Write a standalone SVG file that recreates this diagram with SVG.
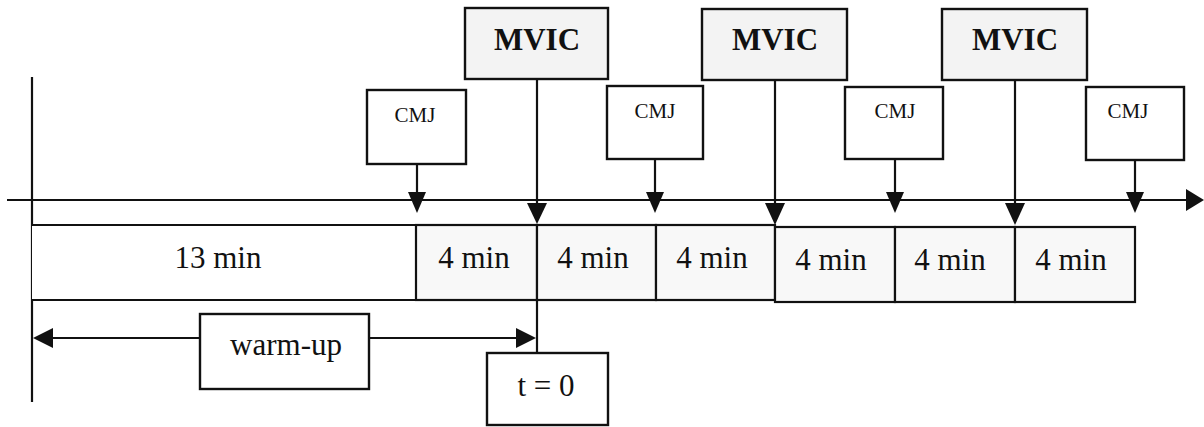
<svg xmlns="http://www.w3.org/2000/svg" width="1204" height="427" viewBox="0 0 1204 427">
  <defs>
    <style>
      .box { fill: #ffffff; stroke: #111111; stroke-width: 2.4; }
      .shade { fill: #f3f3f3; stroke: #111111; stroke-width: 2.4; }
      .cell { fill: #f8f8f8; stroke: #111111; stroke-width: 2.2; }
      .ln { stroke: #111111; stroke-width: 2.2; fill: none; }
      .head { fill: #111111; stroke: none; }
      .t { font-family: "Liberation Serif", "Times New Roman", serif; fill: #111111; text-anchor: middle; }
      .big { font-size: 31px; }
      .bold { font-size: 31px; font-weight: bold; }
      .small { font-size: 21px; }
    </style>
  </defs>

  <!-- time axis and start marker -->
  <g id="connectors">
    <line class="ln" x1="32" y1="77" x2="32" y2="402"/>
    <line class="ln" x1="7" y1="200" x2="1188" y2="200" stroke-width="2.6"/>
    <polygon class="head" points="1186,189 1204,200 1186,211"/>

    <!-- CMJ drops -->
    <line class="ln" x1="417" y1="164" x2="417" y2="194"/>
    <polygon class="head" points="408,192 426,192 417,213"/>
    <line class="ln" x1="655" y1="159" x2="655" y2="194"/>
    <polygon class="head" points="646,192 664,192 655,213"/>
    <line class="ln" x1="895" y1="159" x2="895" y2="194"/>
    <polygon class="head" points="886,192 904,192 895,213"/>
    <line class="ln" x1="1135" y1="160" x2="1135" y2="194"/>
    <polygon class="head" points="1126,192 1144,192 1135,213"/>

    <!-- MVIC drops -->
    <line class="ln" x1="537" y1="79" x2="537" y2="205"/>
    <polygon class="head" points="527,203 547,203 537,224"/>
    <line class="ln" x1="775" y1="80" x2="775" y2="205"/>
    <polygon class="head" points="765,203 785,203 775,225"/>
    <line class="ln" x1="1015" y1="80" x2="1015" y2="205"/>
    <polygon class="head" points="1005,203 1025,203 1015,225"/>

    <!-- t = 0 marker line below the row -->
    <line class="ln" x1="537" y1="300" x2="537" y2="353"/>

    <!-- warm-up span -->
    <line class="ln" x1="50" y1="338" x2="520" y2="338"/>
    <polygon class="head" points="33,338 53,328 53,348"/>
    <polygon class="head" points="536,338 516,328 516,348"/>
  </g>

  <!-- phase row -->
  <g id="row">
    <rect x="32" y="225" width="384" height="75" fill="#ffffff" stroke="none"/>
    <rect class="cell" x="416" y="225" width="121" height="75"/>
    <rect class="cell" x="537" y="225" width="119" height="75"/>
    <rect class="cell" x="656" y="225" width="119" height="75"/>
    <rect class="cell" x="775" y="227" width="120" height="75"/>
    <rect class="cell" x="895" y="227" width="120" height="75"/>
    <rect class="cell" x="1015" y="227" width="120" height="75"/>
    <line class="ln" x1="32" y1="225" x2="416" y2="225"/>
    <line class="ln" x1="32" y1="300" x2="416" y2="300"/>
    <text class="t big" x="218" y="268">13 min</text>
    <text class="t big" x="474" y="268">4 min</text>
    <text class="t big" x="593" y="268">4 min</text>
    <text class="t big" x="712" y="268">4 min</text>
    <text class="t big" x="831" y="270">4 min</text>
    <text class="t big" x="950" y="270">4 min</text>
    <text class="t big" x="1071" y="270">4 min</text>
  </g>

  <g id="mvic1">
    <rect class="shade" x="465" y="8" width="143" height="71"/>
    <text class="t bold" x="537" y="50">MVIC</text>
  </g>
  <g id="mvic2">
    <rect class="shade" x="702" y="9" width="145" height="71"/>
    <text class="t bold" x="775" y="50">MVIC</text>
  </g>
  <g id="mvic3">
    <rect class="shade" x="942" y="9" width="145" height="71"/>
    <text class="t bold" x="1015" y="50">MVIC</text>
  </g>

  <g id="cmj1">
    <rect class="box" x="367" y="90" width="99" height="74"/>
    <text class="t small" x="415" y="122">CMJ</text>
  </g>
  <g id="cmj2">
    <rect class="box" x="607" y="86" width="96" height="73"/>
    <text class="t small" x="655" y="118">CMJ</text>
  </g>
  <g id="cmj3">
    <rect class="box" x="845" y="87" width="98" height="72"/>
    <text class="t small" x="895" y="118">CMJ</text>
  </g>
  <g id="cmj4">
    <rect class="box" x="1086" y="87" width="98" height="73"/>
    <text class="t small" x="1128" y="118">CMJ</text>
  </g>

  <g id="warmup">
    <rect class="box" x="200" y="314" width="169" height="75"/>
    <text class="t big" x="286" y="355">warm-up</text>
  </g>

  <g id="t0">
    <rect class="box" x="487" y="353" width="121" height="72"/>
    <text class="t big" x="546" y="396">t = 0</text>
  </g>
</svg>
